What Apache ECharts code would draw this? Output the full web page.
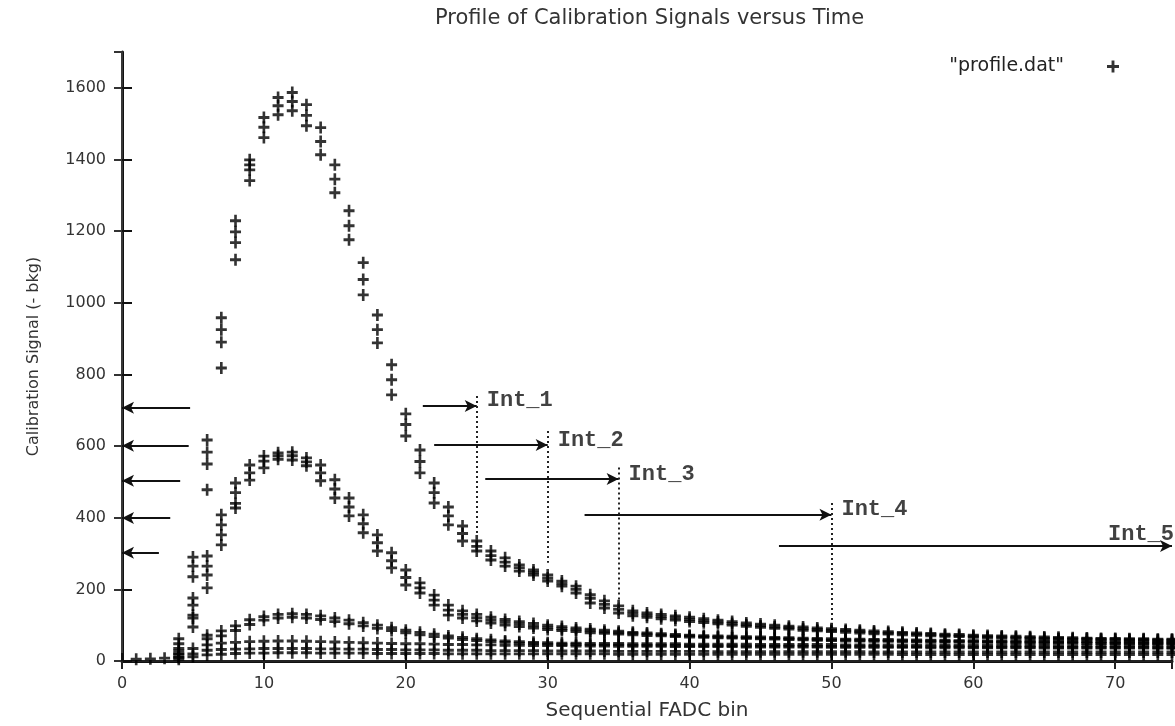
<!DOCTYPE html>
<html>
<head>
<meta charset="utf-8" />
<title>Profile of Calibration Signals versus Time</title>
<script src="https://cdn.jsdelivr.net/npm/echarts@6/dist/echarts.min.js"></script>
<style>
  html, body { margin: 0; padding: 0; background: #fff; }
  #chart { width: 1175px; height: 726px; }
</style>
</head>
<body>
<div id="chart"></div>
<script>
// signal per FADC bin (array index = bin), several runs per pulse group
var runA1 = [null, null, null, null, 62, 290, 617, 958, 1229, 1399,
  1517, 1573, 1587, 1553, 1489, 1385, 1257, 1112, 966, 827,
  690, 589, 497, 430, 377, 335, 307, 288, 268, 254,
  240, 223, 209, 185, 168, 154, 140, 134, 130, 126,
  122, 118, 114, 110, 106, 103, 100, 97, 95, 92,
  90, 88, 86, 84, 82, 80, 78, 77, 75, 74,
  72, 71, 70, 69, 68, 67, 66, 65, 64, 63,
  63, 62, 62, 61, 61];
var runA2 = [null, null, null, null, 48, 265, 583, 925, 1198, 1385,
  1490, 1550, 1562, 1523, 1450, 1345, 1215, 1065, 925, 785,
  660, 557, 470, 405, 356, 320, 294, 276, 260, 247,
  231, 216, 200, 175, 158, 144, 133, 128, 124, 120,
  116, 112, 109, 105, 101, 98, 95, 93, 90, 88,
  86, 84, 82, 80, 78, 77, 75, 74, 72, 71,
  69, 68, 67, 66, 65, 64, 63, 62, 62, 61,
  61, 60, 60, 59, 59];
var runA3 = [null, null, null, null, 35, 235, 550, 890, 1168, 1371,
  1461, 1525, 1536, 1494, 1413, 1307, 1176, 1022, 888, 743,
  628, 525, 441, 380, 335, 307, 282, 265, 251, 240,
  223, 209, 190, 162, 148, 134, 126, 122, 118, 114,
  110, 107, 104, 100, 97, 94, 91, 89, 86, 84,
  82, 80, 78, 76, 75, 73, 72, 70, 69, 68,
  66, 65, 64, 63, 62, 61, 61, 60, 60, 59,
  59, 58, 58, 57, 57];
var runB1 = [null, null, null, null, 28, 176, 293, 408, 497, 547,
  572, 581, 583, 567, 547, 506, 455, 408, 352, 302,
  254, 218, 184, 156, 140, 130, 122, 116, 110, 105,
  100, 96, 92, 89, 86, 83, 80, 78, 76, 74,
  72, 71, 70, 69, 68, 67, 66, 65, 64, 63,
  62, 61, 61, 60, 60, 59, 59, 58, 58, 57,
  57, 56, 56, 56, 55, 55, 55, 54, 54, 54,
  53, 53, 53, 52, 52];
var runB2 = [null, null, null, null, 20, 156, 265, 380, 470, 525,
  558, 573, 573, 556, 525, 480, 430, 383, 330, 280,
  233, 204, 170, 142, 130, 121, 114, 108, 103, 98,
  94, 90, 87, 84, 81, 79, 77, 75, 73, 71,
  70, 68, 67, 66, 65, 64, 63, 62, 61, 60,
  59, 59, 58, 58, 57, 57, 56, 56, 55, 55,
  55, 54, 54, 53, 53, 53, 52, 52, 52, 51,
  51, 51, 50, 50, 50];
var runB3 = [null, null, null, null, 12, 128, 240, 352, 440, 505,
  539, 563, 561, 545, 503, 455, 405, 358, 307, 260,
  212, 190, 156, 128, 120, 112, 106, 100, 96, 92,
  88, 85, 82, 79, 77, 75, 73, 71, 70, 68,
  67, 66, 65, 64, 63, 62, 61, 60, 59, 58,
  57, 56, 56, 55, 55, 54, 54, 53, 53, 53,
  52, 52, 51, 51, 51, 50, 50, 50, 49, 49,
  49, 48, 48, 48, 48];
var runC1 = [null, null, null, null, null, 120, 72, 84, 98, 115,
  124, 130, 132, 130, 126, 120, 114, 107, 100, 93,
  86, 80, 75, 70, 66, 62, 59, 56, 54, 52,
  51, 50, 50, 49, 49, 49, 48, 48, 48, 48,
  47, 47, 47, 47, 47, 46, 46, 46, 46, 46,
  46, 45, 45, 45, 45, 45, 45, 45, 44, 44,
  44, 44, 44, 44, 44, 44, 43, 43, 43, 43,
  43, 43, 43, 43, 43];
var runC2 = [null, null, null, null, null, 95, 62, 70, 85, 102,
  114, 120, 122, 120, 116, 110, 104, 98, 91, 85,
  79, 73, 68, 64, 60, 57, 54, 52, 50, 48,
  47, 46, 46, 45, 45, 45, 44, 44, 44, 44,
  43, 43, 43, 43, 42, 42, 42, 42, 42, 41,
  41, 41, 41, 41, 40, 40, 40, 40, 40, 40,
  39, 39, 39, 39, 39, 39, 38, 38, 38, 38,
  38, 38, 38, 37, 37];
var runD1 = [null, null, null, null, 20, 35, 45, 50, 52, 54,
  55, 56, 56, 55, 54, 53, 52, 51, 50, 49,
  48, 48, 47, 46, 46, 45, 45, 44, 44, 43,
  43, 43, 42, 42, 42, 41, 41, 41, 41, 40,
  40, 40, 40, 40, 39, 39, 39, 39, 39, 39,
  38, 38, 38, 38, 38, 38, 38, 37, 37, 37,
  37, 37, 37, 37, 37, 36, 36, 36, 36, 36,
  36, 36, 36, 36, 36];
var runD2 = [null, null, null, null, 10, 20, 30, 32, 33, 34,
  35, 35, 35, 35, 34, 34, 33, 33, 32, 32,
  31, 31, 31, 30, 30, 30, 29, 29, 29, 29,
  28, 28, 28, 28, 28, 27, 27, 27, 27, 27,
  27, 27, 26, 26, 26, 26, 26, 26, 26, 26,
  26, 26, 26, 25, 25, 25, 25, 25, 25, 25,
  25, 25, 25, 25, 25, 25, 25, 25, 25, 25,
  25, 25, 25, 25, 25];
var runE1 = [null, 5, 6, 8, 5, 12, 17, 19, 21, 22,
  22, 23, 23, 23, 22, 22, 22, 22, 21, 21,
  21, 21, 21, 20, 20, 20, 20, 20, 20, 20,
  20, 20, 20, 20, 20, 19, 19, 19, 19, 19,
  19, 19, 19, 19, 19, 19, 19, 19, 19, 19,
  19, 19, 19, 19, 19, 18, 18, 18, 18, 18,
  18, 18, 18, 18, 18, 18, 18, 18, 18, 18,
  18, 18, 18, 18, 18];
// single stray points [bin, signal]
var strayPoints = [[6, 478], [7, 818], [8, 1120], [9, 1341], [6, 204], [7, 324], [8, 427]];

// integration window annotations
var intNames = ['Int_1', 'Int_2', 'Int_3', 'Int_4', 'Int_5'];
var intStart = [21.2, 22, 25.6, 32.6, 46.3];
var intEnd = [25, 30, 35, 50, 74];
var intLevel = [712, 603, 508, 408, 321];
var intTop = [740, 642, 540, 441];
var intFoot = [350, 274, 140, 90];
// arrows pointing at the y axis
var leftLevel = [707, 601, 503, 399, 302];
var leftStart = [4.8, 4.7, 4.1, 3.4, 2.6];

var xTicks = [0, 74, 10];      // min, max, step
var yTicks = [0, 1700, 200];

var plus = 'path://M3.8,0L6.2,0L6.2,3.8L10,3.8L10,6.2L6.2,6.2L6.2,10L3.8,10L3.8,6.2L0,6.2L0,3.8L3.8,3.8Z';
var sans = 'DejaVu Sans';

var points = [];
[runA1, runA2, runA3, runB1, runB2, runB3, runC1, runC2, runD1, runD2, runE1].forEach(function (run) {
  run.forEach(function (v, bin) {
    if (v !== null) points.push([bin, v]);
  });
});
strayPoints.forEach(function (p) { points.push(p); });

var arrowLines = [];
var dropLines = [];
for (var i = 0; i < intNames.length; i++) {
  arrowLines.push([{ coord: [intStart[i], intLevel[i]] }, { coord: [intEnd[i], intLevel[i]] }]);
  if (i < intTop.length) {
    dropLines.push([{ coord: [intEnd[i], intTop[i]] }, { coord: [intEnd[i], intFoot[i]] }]);
  }
}
for (var j = 0; j < leftLevel.length; j++) {
  arrowLines.push([{ coord: [leftStart[j], leftLevel[j]] }, { coord: [0, leftLevel[j]] }]);
}
var labelPoints = intNames.map(function (n, k) { return [intEnd[k], intLevel[k]]; });

var chart = echarts.init(document.getElementById('chart'));
chart.setOption({
  animation: false,
  backgroundColor: '#fff',
  title: {
    text: 'Profile of Calibration Signals versus Time',
    left: 430,
    top: 3,
    textStyle: { fontFamily: sans, fontSize: 21, fontWeight: 'normal', color: '#333' }
  },
  legend: {
    data: ['"profile.dat"'],
    right: 56,
    top: 57,
    padding: 0,
    align: 'right',
    icon: plus,
    itemWidth: 12,
    itemHeight: 12,
    itemStyle: { color: '#000' },
    textStyle: { fontFamily: sans, fontSize: 19, color: '#222', padding: [0, 38, 0, 0] }
  },
  grid: { left: 122, right: 3, top: 52, bottom: 63 },
  xAxis: [{
    type: 'value',
    min: xTicks[0], max: xTicks[1], interval: xTicks[2],
    name: 'Sequential FADC bin',
    nameLocation: 'middle',
    nameGap: 40,
    nameTextStyle: { fontFamily: sans, fontSize: 20, color: '#333' },
    axisLine: { lineStyle: { color: '#111', width: 3 } },
    axisTick: { inside: true, length: 8, lineStyle: { color: '#111', width: 2 } },
    axisLabel: { fontFamily: sans, fontSize: 16, color: '#333', margin: 15, showMaxLabel: false },
    splitLine: { show: false }
  }, {
    type: 'value',
    position: 'top',
    min: xTicks[0], max: xTicks[1], interval: xTicks[2],
    axisLine: { lineStyle: { color: '#222', width: 2 } },
    axisTick: { inside: true, length: 8, lineStyle: { color: '#222', width: 2 } },
    axisLabel: { show: false },
    splitLine: { show: false }
  }],
  yAxis: [{
    type: 'value',
    min: yTicks[0], max: yTicks[1], interval: yTicks[2],
    name: 'Calibration Signal (- bkg)',
    nameLocation: 'middle',
    nameGap: 80,
    nameTextStyle: { fontFamily: sans, fontSize: 16, color: '#333' },
    axisLine: { lineStyle: { color: '#111', width: 3 } },
    axisTick: { inside: true, length: 10, lineStyle: { color: '#111', width: 2 } },
    axisLabel: {
      fontFamily: sans, fontSize: 16, color: '#333', margin: 16, showMaxLabel: false,
      formatter: function (v) { return String(v); }
    },
    splitLine: { show: false }
  }, {
    type: 'value',
    position: 'right',
    min: yTicks[0], max: yTicks[1], interval: yTicks[2],
    axisLine: { lineStyle: { color: '#444', width: 1.5 } },
    axisTick: { inside: true, length: 8, lineStyle: { color: '#333', width: 2 } },
    axisLabel: { show: false },
    splitLine: { show: false }
  }],
  series: [{
    name: '"profile.dat"',
    type: 'scatter',
    data: points,
    symbol: plus,
    symbolSize: [11, 12],
    itemStyle: { color: '#000' },
    silent: true
  }, {
    name: 'windows',
    type: 'scatter',
    data: labelPoints,
    symbolSize: 0,
    silent: true,
    label: {
      show: true,
      position: [10, -16],
      fontFamily: 'Liberation Mono',
      fontWeight: 'bold',
      fontSize: 22,
      color: '#111',
      formatter: function (p) { return intNames[p.dataIndex]; }
    },
    labelLayout: function (params) {
      if (params.dataIndex === intNames.length - 1) {
        return { x: params.rect.x - 64, y: params.rect.y - 23 };
      }
    },
    markLine: {
      silent: true,
      symbol: ['none', 'arrow'],
      symbolSize: [9, 12],
      label: { show: false },
      lineStyle: { color: '#111', width: 2, type: 'solid' },
      data: arrowLines
    }
  }, {
    name: 'drops',
    type: 'scatter',
    data: [],
    silent: true,
    markLine: {
      silent: true,
      symbol: 'none',
      label: { show: false },
      lineStyle: { color: '#222', width: 2, type: [2, 3] },
      data: dropLines
    }
  }]
});
</script>
</body>
</html>
